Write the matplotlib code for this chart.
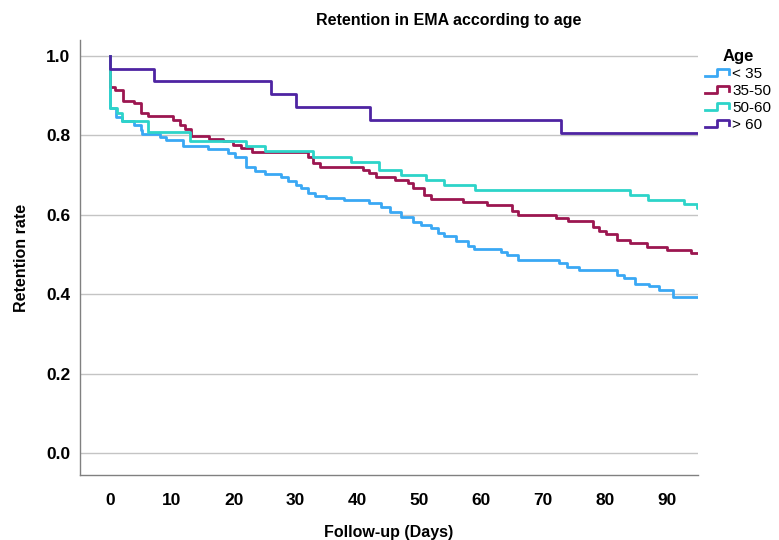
import matplotlib
matplotlib.use("Agg")
import matplotlib.pyplot as plt
from matplotlib.lines import Line2D
from matplotlib.legend_handler import HandlerBase

plt.rcParams['font.family'] = ['Liberation Sans', 'DejaVu Sans']

# Kaplan-Meier style retention steps (days, rate)
dias_35 = [0, 0, 1, 2, 4, 5, 5.2, 8.1, 9.1, 11.8, 15.9, 19.1, 20.2, 22, 23.4, 25,
           27.7, 28.8, 30.1, 30.9, 32, 33.1, 35, 37.9, 41.9, 43.8, 45.2, 47, 48.9,
           50.3, 51.9, 53, 54, 55.9, 57.8, 58.9, 63.2, 64.1, 66, 72.6, 73.9, 75.8,
           81.9, 83, 84.9, 87.1, 88.7, 90.9, 95]
taxa_35 = [1.0, 0.868, 0.846, 0.835, 0.826, 0.814, 0.803, 0.797, 0.788, 0.773, 0.765,
           0.755, 0.746, 0.721, 0.710, 0.703, 0.694, 0.686, 0.675, 0.667, 0.656, 0.647,
           0.642, 0.636, 0.629, 0.619, 0.608, 0.595, 0.583, 0.574, 0.566, 0.555, 0.547,
           0.535, 0.521, 0.513, 0.507, 0.499, 0.487, 0.479, 0.468, 0.461, 0.448, 0.440,
           0.427, 0.421, 0.411, 0.394, 0.394]

dias_35_50 = [0, 0, 0.8, 2.1, 4, 5.1, 6.2, 10.2, 11.3, 12.1, 13.2, 16.1, 18.3, 19.9,
              21.2, 22.9, 32, 32.8, 34, 40.9, 41.9, 43, 46, 48.1, 48.9, 50.8, 51.9,
              57, 61, 65, 66, 72, 74, 78.1, 79, 80.1, 81.9, 84, 86.8, 90, 93.8, 95]
taxa_35_50 = [1.0, 0.921, 0.913, 0.887, 0.881, 0.857, 0.849, 0.839, 0.826, 0.815,
              0.798, 0.791, 0.787, 0.776, 0.767, 0.759, 0.746, 0.731, 0.721, 0.713,
              0.704, 0.696, 0.688, 0.681, 0.667, 0.650, 0.639, 0.633, 0.625, 0.610,
              0.600, 0.591, 0.584, 0.570, 0.560, 0.552, 0.537, 0.528, 0.520, 0.511,
              0.503, 0.503]

dias_50_60 = [0, 0, 1.1, 2, 6.2, 13, 22, 25, 32.8, 39, 43.5, 47, 51, 54, 59, 84, 87,
              92.7, 94.8, 95]
taxa_50_60 = [1.0, 0.869, 0.856, 0.835, 0.809, 0.786, 0.772, 0.760, 0.746, 0.734,
              0.713, 0.700, 0.688, 0.675, 0.662, 0.650, 0.637, 0.626, 0.617, 0.617]

dias_60 = [0, 0, 7.1, 26.1, 30.1, 42, 72.9, 95]
taxa_60 = [1.0, 0.968, 0.936, 0.904, 0.871, 0.839, 0.807, 0.807]

grupos = ['< 35', '35-50', '50-60', '> 60']
cores = ['#3aa8f4', '#9c1650', '#2dd4c9', '#4e24a2']
series = [(dias_35, taxa_35), (dias_35_50, taxa_35_50),
          (dias_50_60, taxa_50_60), (dias_60, taxa_60)]


class HandlerDegrau(HandlerBase):
    # desenha o pequeno degrau usado na legenda do SPSS
    def create_artists(self, legend, orig_handle, xdescent, ydescent,
                       width, height, fontsize, trans):
        x0 = -xdescent
        baixo = -ydescent + 0.2 * height
        alto = -ydescent + 0.85 * height
        xs = [x0, x0 + 0.45 * width, x0 + 0.45 * width, x0 + 0.88 * width, x0 + 0.88 * width]
        ys = [baixo, baixo, alto, alto, baixo + 0.15 * height]
        linha = Line2D(xs, ys, color=orig_handle.get_color(),
                       linewidth=orig_handle.get_linewidth(), transform=trans)
        return [linha]


fig = plt.figure(figsize=(7.79, 5.4), dpi=100)
ax = fig.add_axes([80 / 779, 65 / 540, 618 / 779, 435 / 540])

linhas = []
for (dias, taxas), cor, nome in zip(series, cores, grupos):
    l, = ax.step(dias, taxas, where='post', color=cor, linewidth=2.0, label=nome)
    linhas.append(l)

ax.set_xlim(-4.8, 95)
ax.set_ylim(-0.055, 1.04)
ax.set_xticks(range(0, 91, 10))
ax.set_yticks([0.0, 0.2, 0.4, 0.6, 0.8, 1.0])
ax.set_yticklabels(['%.1f' % v for v in [0.0, 0.2, 0.4, 0.6, 0.8, 1.0]])
ax.tick_params(length=0, labelsize=12.5)
ax.tick_params(axis='x', pad=13)
ax.tick_params(axis='y', pad=7)
for lab in ax.get_xticklabels() + ax.get_yticklabels():
    lab.set_fontweight('bold')

ax.yaxis.grid(True, color='#c4c4c4', linewidth=1)
ax.set_axisbelow(True)
for lado in ['top', 'right']:
    ax.spines[lado].set_visible(False)
for lado in ['left', 'bottom']:
    ax.spines[lado].set_color('#808080')
    ax.spines[lado].set_linewidth(1)

ax.set_xlabel('Follow-up (Days)', fontsize=11.5, fontweight='bold', labelpad=12)
ax.set_ylabel('Retention rate', fontsize=11.5, fontweight='bold', labelpad=12)
fig.text(449 / 779, 1 - 20 / 540, 'Retention in EMA according to age',
         ha='center', va='center', fontsize=11.5, fontweight='bold')

leg = fig.legend(linhas, grupos, handler_map={Line2D: HandlerDegrau()},
                 loc='upper left', bbox_to_anchor=(694 / 779, 1 - 38 / 540),
                 frameon=False, fontsize=11, title='Age',
                 title_fontproperties={'weight': 'bold', 'size': 12},
                 handlelength=1.8, handletextpad=0.0, labelspacing=0.2,
                 borderpad=0.2)
leg._legend_box.align = 'center'

fig.savefig('out.png', dpi=100)
